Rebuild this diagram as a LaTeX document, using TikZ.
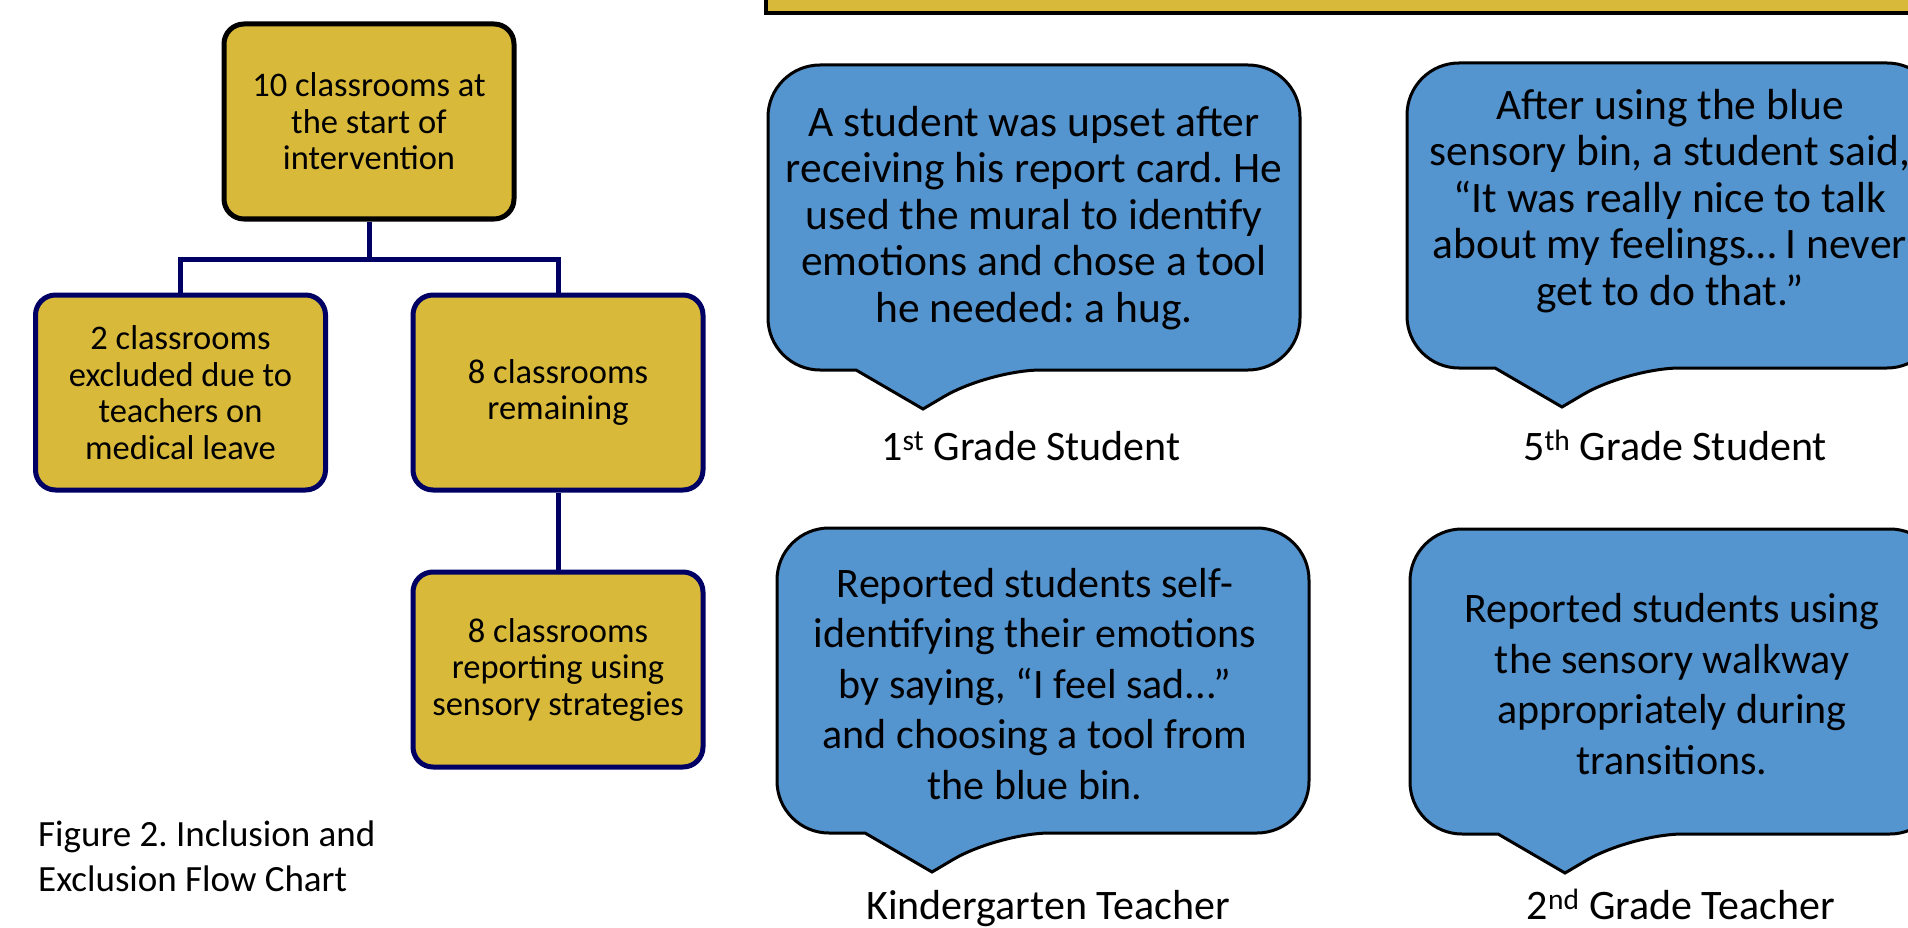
\documentclass[tikz,border=0pt]{standalone}
\usepackage{fontspec}
\setmainfont{Carlito}
\usetikzlibrary{positioning}
\frenchspacing

\definecolor{gold}{RGB}{217,185,58}
\definecolor{navy}{RGB}{0,0,100}
\definecolor{bubbleblue}{RGB}{84,148,207}

\tikzset{
  box/.style={draw=navy, fill=gold, line width=5pt, rounded corners=20pt,
    minimum width=290pt, minimum height=195pt, align=center,
    font=\fontsize{34.5}{36.5}\selectfont},
  link/.style={draw=navy, line width=5pt},
  bubble/.style={draw=black, fill=bubbleblue, line width=3pt, rounded corners=52pt},
  quote/.style={align=center, inner sep=0pt, font=\fontsize{43.5}{46.5}\selectfont},
  report/.style={quote, font=\fontsize{42}{50.5}\selectfont},
  speaker/.style={anchor=base, inner sep=0pt, font=\fontsize{42}{50}\selectfont},
}

\begin{document}
\begin{tikzpicture}[x=1pt, y=-1pt]
\useasboundingbox (0,0) rectangle (1908,928);

\draw[fill=gold, line width=3.5pt] (766,-10) rectangle (1930,13);

\node[box, draw=black] (start) at (369,121.5) {10 classrooms at\\the start of\\intervention};
\node[box] (excluded) at (180.5,392.5) {2 classrooms\\excluded due to\\teachers on\\medical leave};
\node[box] (remaining) at (558,392.5) {8 classrooms\\remaining};
\node[box, below=77pt of remaining] (reporting) {8 classrooms\\reporting using\\sensory strategies};

\draw[link] (start.south) -- ++(0,38) coordinate (split);
\draw[link] (excluded.north) |- (split) -| (remaining.north);
\draw[link] (remaining.south) -- (reporting.north);

\node[anchor=north west, align=left, inner sep=0pt, font=\fontsize{37}{45}\selectfont] (caption) at (38,821) {Figure 2. Inclusion and\\Exclusion Flow Chart};

\foreach \x/\y in {768/65, 1407/63, 777/528, 1410/529} {
  \draw[bubble] (\x+88,\y+305) -- (\x,\y+305) -- (\x,\y) -- (\x+532,\y) -- (\x+532,\y+305) -- (\x+221,\y+305) [sharp corners] -- (\x+155,\y+344) -- cycle;
}

\node[quote] (q1) at (1034,218) {A student was upset after\\receiving his report card. He\\used the mural to identify\\emotions and chose a tool\\he needed: a hug.};
\node[quote] (q2) at (1670,201) {After using the blue\\sensory bin, a student said,\\“It was really nice to talk\\about my feelings… I never\\get to do that.”};
\node[report] (q3) at (1035,684) {Reported students self-\\identifying their emotions\\by saying, “I feel sad...”\\and choosing a tool from\\the blue bin.};
\node[report] (q4) at (1672,684) {Reported students using\\the sensory walkway\\appropriately during\\transitions.};

\node[speaker] (s1) at (1031,460) {1\textsuperscript{st} Grade Student};
\node[speaker] (s2) at (1675,460) {5\textsuperscript{th} Grade Student};
\node[speaker] (s3) at (1048,919) {Kindergarten Teacher};
\node[speaker] (s4) at (1681,919) {2\textsuperscript{nd} Grade Teacher};
\end{tikzpicture}
\end{document}
